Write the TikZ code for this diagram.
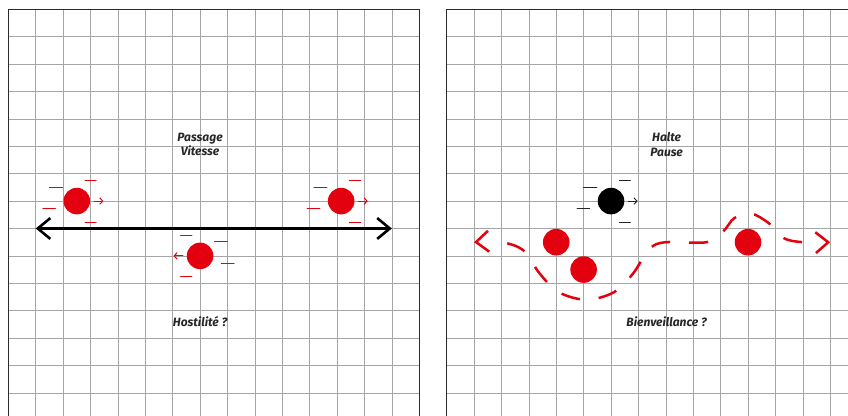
\documentclass[tikz,border=0pt]{standalone}
\usepackage{fontspec}
\setsansfont{Fira Sans}
\usepackage{tikz}
\usetikzlibrary{arrows.meta}
\definecolor{tred}{HTML}{E3000F}
\definecolor{gridgray}{HTML}{A6A6A6}
\definecolor{framegray}{HTML}{2B2B2B}

\begin{document}
\begin{tikzpicture}[
    gridline/.style={draw=gridgray,line width=0.55pt},
    frame/.style={draw=framegray,line width=1.3pt},
    ball/.style={circle,fill=tred,inner sep=0pt,minimum size=0.97cm},
    caption/.style={font=\sffamily\bfseries\itshape\fontsize{12.5}{15}\selectfont,align=center,text=black!85},
    speedmark/.style={line width=1pt,line cap=round},
    way/.style={line width=2.4pt,{Straight Barb[length=4.6mm,width=7.6mm,line width=2.7pt]}-{Straight Barb[length=4.6mm,width=7.6mm,line width=2.7pt]}},
    trail/.style={draw=tred,line width=2.6pt,
      dash pattern=on 0pt off 1.1cm on 0.7cm off 0.69cm on 0.7cm off 0.69cm on 0.7cm off 0.69cm
        on 0.7cm off 0.69cm on 0.7cm off 0.69cm on 0.7cm off 0.69cm on 0.7cm off 0.69cm
        on 0.7cm off 0.69cm on 0.7cm off 0.69cm on 0.7cm off 5cm,
      {Straight Barb[length=4.6mm,width=7.6mm,line width=2.6pt]}-{Straight Barb[length=4.6mm,width=7.6mm,line width=2.6pt]}},
    speed/.pic={
      \draw[speedmark] (-1.0,0.51) -- (-0.52,0.51) (0.3,0.75) -- (0.71,0.75)
        (-1.24,-0.26) -- (-0.78,-0.26) (0.3,-0.77) -- (0.71,-0.77);
      \draw[speedmark,-{Straight Barb[length=1.1mm,width=2.4mm]}] (0.63,0) -- (0.97,0);
    }
  ]
  \useasboundingbox (-0.303,0.16) rectangle (30.65,15.34);
  \clip (-0.303,0.16) rectangle (30.65,15.34);

  % left panel: passage
  \draw[gridline] (0,0) grid (15,15);
  \draw[frame] (0,0) rectangle (15,15);
  \node[caption] (passage) at (7,10.06) {Passage\\Vitesse};
  \node[caption] (hostile) at (7,3.6) {Hostilité ?};
  \coordinate (wayl) at (1,7);
  \coordinate (wayr) at (14,7);
  \draw[way] (wayl) -- (wayr);
  \node[ball] (pass1) at (2.5,8) {};
  \node[ball] (pass2) at (7,6) {};
  \node[ball] (pass3) at (12.15,8) {};
  \pic[color=tred] at (pass1) {speed};
  \pic[color=tred,xscale=-1] at (pass2) {speed};
  \pic[color=tred] at (pass3) {speed};

  % right panel: halte
  \begin{scope}[xshift=16cm]
    \draw[gridline] (0,0) grid (15,15);
    \draw[frame] (0,0) rectangle (15,15);
    \node[caption] (halte) at (8.03,10.06) {Halte\\Pause};
    \node[caption] (welcome) at (8.03,3.6) {Bienveillance ?};
    \coordinate (traill) at (1,6.5);
    \coordinate (trailr) at (14,6.5);
    \draw[trail] plot[smooth,tension=0.55] coordinates {(traill) (2.0,6.5) (2.8,6.2) (3.4,5.35)
      (4.1,4.67) (5.1,4.4) (6.1,4.67) (6.8,5.35) (7.4,6.25) (8.0,6.5) (9.5,6.5)
      (10.1,6.9) (10.5,7.38) (11.1,7.55) (11.75,7.2) (12.3,6.65) (13,6.5) (trailr)};
    \node[ball,fill=black] (halt) at (6,8) {};
    \pic[color=black!85] at (halt) {speed};
    \node[ball] (stay1) at (4,6.5) {};
    \node[ball] (stay2) at (5,5.5) {};
    \node[ball] (stay3) at (11,6.5) {};
  \end{scope}
\end{tikzpicture}
\end{document}
